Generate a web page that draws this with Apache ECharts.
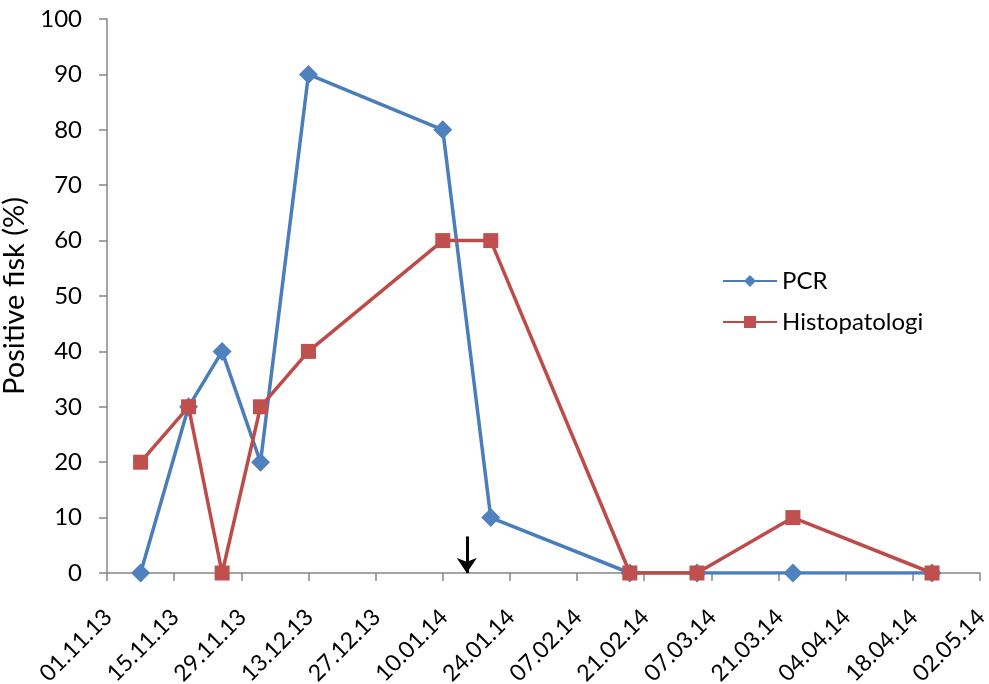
<!DOCTYPE html>
<html>
<head>
<meta charset="utf-8">
<script src="https://cdn.jsdelivr.net/npm/echarts@6/dist/echarts.min.js"></script>
<style>html,body{margin:0;padding:0;background:#fff}#c{width:989px;height:684px}</style>
</head>
<body>
<div id="c"></div>
<script>
// Sampling dates (dd.mm.yy)
const sampleDates = ['08.11.13','18.11.13','25.11.13','03.12.13','13.12.13','10.01.14','20.01.14','18.02.14','04.03.14','24.03.14','22.04.14'];
// Positive fish (%)
const pcrValues   = [0, 30, 40, 20, 90, 80, 10, 0, 0, 0, 0];
const histoValues = [20, 30, 0, 30, 40, 60, 60, 0, 0, 10, 0];
// Axis range and arrow annotation date
const axisStart = '01.11.13';
const axisEnd = '02.05.14';
const arrowDate = '15.01.14';
const yTicks = [0,10,20,30,40,50,60,70,80,90,100];

const DAY = 86400000;
function parseD(s){const p=s.split('.');return Date.UTC(2000+ +p[2], +p[1]-1, +p[0]);}
const t0 = parseD(axisStart);
function dayOf(s){return Math.round((parseD(s)-t0)/DAY);}
function fmt(d){const dt=new Date(t0+d*DAY);const z=n=>(n<10?'0':'')+n;return z(dt.getUTCDate())+'.'+z(dt.getUTCMonth()+1)+'.'+z(dt.getUTCFullYear()%100);}

const FONT = 'Lato';
const chart = echarts.init(document.getElementById('c'));
chart.setOption({
  animation:false,
  textStyle:{fontFamily:FONT},
  grid:{left:107,right:9,top:19,bottom:111,containLabel:false,outerBoundsMode:'none'},
  legend:{
    orient:'vertical', left:717, top:264, itemGap:17, itemWidth:54, itemHeight:15,
    textStyle:{fontSize:24,color:'#000',fontFamily:FONT},
    data:['PCR','Histopatologi']
  },
  xAxis:{
    type:'value', min:0, max:dayOf(axisEnd), interval:14,
    axisLine:{lineStyle:{color:'#868686',width:1.5}},
    axisTick:{show:true,length:8,lineStyle:{color:'#868686',width:1.5}},
    splitLine:{show:false},
    axisLabel:{rotate:45,fontSize:23,color:'#000',margin:25,verticalAlign:'top',padding:[0,10,0,0],
      formatter:v=>fmt(v),showMaxLabel:true,showMinLabel:true}
  },
  yAxis:{
    type:'value', min:yTicks[0], max:yTicks[yTicks.length-1], interval:10,
    name:'Positive fisk (%)', nameLocation:'middle', nameGap:62, nameRotate:90,
    nameTextStyle:{fontSize:29,color:'#000',fontFamily:FONT},
    axisLine:{show:true,lineStyle:{color:'#868686',width:1.5}},
    axisTick:{show:true,length:8,lineStyle:{color:'#868686',width:1.5}},
    splitLine:{show:false},
    axisLabel:{fontSize:24,color:'#000',margin:25}
  },
  series:[
    {
      name:'PCR', type:'line', symbol:'diamond', symbolSize:[19,19],
      lineStyle:{color:'#4A7EBB',width:3.5}, itemStyle:{color:'#4F81BD'},
      data:sampleDates.map((d,i)=>[dayOf(d),pcrValues[i]]),
      z:2
    },
    {
      name:'Histopatologi', type:'line', symbol:'rect', symbolSize:[15,15],
      lineStyle:{color:'#BE4B48',width:3.5}, itemStyle:{color:'#C0504D'},
      data:sampleDates.map((d,i)=>[dayOf(d),histoValues[i]]),
      z:3,
      markLine:{
        silent:true, symbol:['none','arrow'], symbolSize:[15,15], label:{show:false},
        lineStyle:{color:'#000',width:3,type:'solid'},
        data:[[{coord:[dayOf(arrowDate),6.6]},{coord:[dayOf(arrowDate),0]}]]
      }
    }
  ]
});
</script>
</body>
</html>
